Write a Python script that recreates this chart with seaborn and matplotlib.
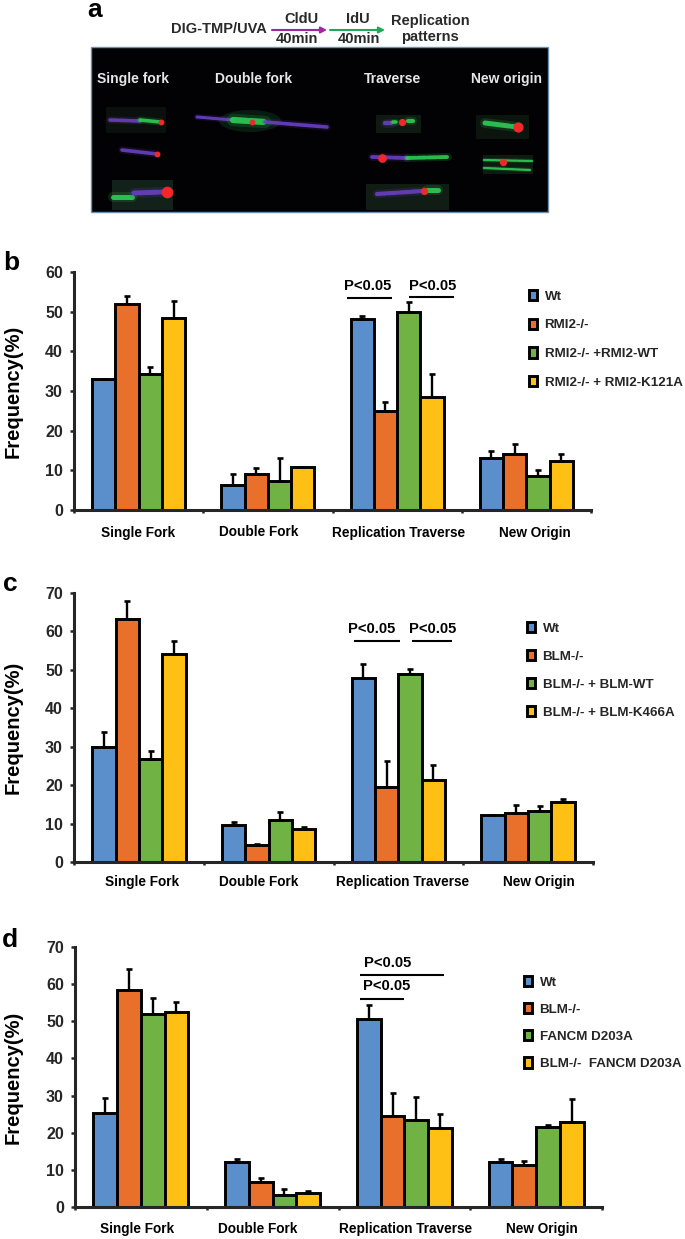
import numpy as np
import pandas as pd
import matplotlib
matplotlib.use('Agg')
import matplotlib.pyplot as plt
import seaborn as sns
from matplotlib.patches import Rectangle, Ellipse

W, H = 685, 1239

categories = ['Single Fork', 'Double Fork', 'Replication Traverse', 'New Origin']
colors = ['#5B8FCB', '#E8702A', '#70B244', '#FFC015']

b_groups = ['Wt', 'RMI2-/-', 'RMI2-/- +RMI2-WT', 'RMI2-/- + RMI2-K121A']
b_values = [[33, 6.4, 48.2, 13],
            [52, 9, 25, 14],
            [34.3, 7.2, 50, 8.6],
            [48.5, 10.9, 28.5, 12.3]]
b_errors = [[0, 2.6, 0.6, 2],
            [2, 1.5, 2.3, 2.6],
            [1.7, 5.8, 2.5, 1.6],
            [4.2, 0, 5.8, 1.7]]

c_groups = ['Wt', 'BLM-/-', 'BLM-/- + BLM-WT', 'BLM-/- + BLM-K466A']
c_values = [[30, 9.5, 47.9, 12.3],
            [63.2, 4.3, 19.4, 12.7],
            [26.8, 10.8, 48.8, 13.2],
            [54, 8.5, 21.4, 15.5]]
c_errors = [[3.8, 0.8, 3.7, 0],
            [4.7, 0.5, 7, 2.2],
            [2.2, 2.1, 1.4, 1.4],
            [3.6, 0.6, 3.8, 0.8]]

d_groups = ['Wt', 'BLM-/-', 'FANCM D203A', 'BLM-/-  FANCM D203A']
d_values = [[25.3, 12.1, 50.7, 12.1],
            [58.3, 6.6, 24.4, 11.2],
            [51.9, 3.3, 23.5, 21.6],
            [52.5, 3.7, 21.4, 23]]
d_errors = [[4, 0.9, 3.6, 0.9],
            [5.7, 1.3, 6.3, 1.2],
            [4.3, 1.6, 6.1, 0.4],
            [2.7, 0.7, 3.6, 6]]

sns.set_style('ticks')
plt.rcParams['font.family'] = ['Liberation Sans', 'DejaVu Sans']
plt.rcParams['font.weight'] = 'bold'

fig = plt.figure(figsize=(W / 100, H / 100), dpi=100)

# full figure layer in pixel coordinates for the annotations
top = fig.add_axes([0, 0, 1, 1], zorder=5)
top.set_xlim(0, W)
top.set_ylim(H, 0)
top.axis('off')
top.patch.set_alpha(0)


def bar_panel(groups, values, errors, ymax, left, right, y_top, y_zero, legend_xy, spacing):
    df = pd.DataFrame({
        'category': categories * 4,
        'group': np.repeat(groups, 4),
        'value': np.ravel(values),
    })
    ax = fig.add_axes([left / W, 1 - y_zero / H, (right - left) / W, (y_zero - y_top) / H])
    sns.barplot(data=df, x='category', y='value', hue='group', hue_order=groups,
                palette=colors, order=categories, width=0.72, gap=0, errorbar=None,
                edgecolor='black', linewidth=2.1, saturation=1, ax=ax)
    for bars, err in zip(ax.containers, errors):
        xs = [p.get_x() + p.get_width() / 2 for p in bars]
        tops = [p.get_height() for p in bars]
        up = np.array(err, dtype=float)
        up[up == 0] = np.nan
        ax.errorbar(xs, tops, yerr=[np.zeros(4), up], fmt='none', ecolor='black',
                    elinewidth=1.7, capsize=2.4, capthick=1.9, zorder=1)
    ax.set_xlim(-0.5, 3.5)
    ax.set_ylim(0, ymax)
    ax.set_yticks(np.arange(0, ymax + 1, 10))
    ax.set_xticks(np.arange(-0.5, 4, 1))
    ax.set_xticklabels([])
    ax.set_xlabel('')
    ax.set_ylabel('')
    ax.tick_params(axis='y', labelsize=11.5, width=1.8, length=3, pad=5)
    ax.tick_params(axis='x', width=1.8, length=2.5)
    for lab in ax.get_yticklabels():
        lab.set_fontweight('bold')
    sns.despine(ax=ax)
    ax.spines['left'].set_linewidth(2.2)
    ax.spines['bottom'].set_linewidth(2.2)
    sns.move_legend(ax, 'upper left', bbox_to_anchor=(legend_xy[0] / W, 1 - legend_xy[1] / H),
                    bbox_transform=fig.transFigure, frameon=False, title=None,
                    fontsize=9.6, handlelength=0.62, handleheight=0.8, handletextpad=0.55,
                    labelspacing=spacing, borderpad=0, borderaxespad=0)
    return ax


bar_panel(b_groups, b_values, b_errors, 60, 74, 591, 272, 510, (529, 290), 1.2)
bar_panel(c_groups, c_values, c_errors, 70, 74, 593, 593, 862, (527, 622), 1.15)
bar_panel(d_groups, d_values, d_errors, 70, 75, 602, 947, 1207, (524, 976), 1.08)


def say(x, y, s, size=10, color='black', **kw):
    top.text(x, y, s, fontsize=size, color=color, fontweight='bold',
             ha=kw.pop('ha', 'center'), va=kw.pop('va', 'center'), **kw)


# category labels sit a little off the group centres in the original
label_x = {532.5: [137.7, 259, 398.6, 535],
           882: [142, 259, 402.5, 539],
           1229: [137, 258, 405.6, 542]}
for y, xs in label_x.items():
    for x, name in zip(xs, categories):
        say(x, y, name, 9.8)

for y in [391, 727, 1077]:
    say(13, y, 'Frequency(%)', 14.5, rotation=90)

for x, y, s in [(95, 17, 'a'), (11, 270, 'b'), (10, 591, 'c'), (10, 947, 'd')]:
    say(x, y, s, 19, va='baseline')

# significance bars
p_lines = [(347, 392, 298), (409, 454, 297), (354, 400, 641), (412, 452, 641),
           (360, 444, 975), (360, 404, 999)]
p_text = [(368, 286), (433, 286), (372, 629), (433, 629), (388, 963), (387, 986)]
for x0, x1, y in p_lines:
    top.plot([x0, x1], [y, y], color='black', lw=1.5, solid_capstyle='butt')
for x, y in p_text:
    say(x, y, 'P<0.05', 10.6)

# panel a: protocol header
say(219, 29, 'DIG-TMP/UVA', 10.5, color='#2A2A2A')
say(301, 19, 'CldU', 10.5, color='#2A2A2A')
say(297, 39, '40min', 10.5, color='#2A2A2A')
say(358, 19, 'IdU', 10.5, color='#2A2A2A')
say(359, 39, '40min', 10.5, color='#2A2A2A')
say(430, 21, 'Replication', 10.5, color='#2A2A2A')
say(430, 37, 'patterns', 10.5, color='#2A2A2A')
for x0, x1, col in [(272, 327, '#A0289A'), (330, 385, '#1FA85A')]:
    top.annotate('', xy=(x1, 30), xytext=(x0, 30),
                 arrowprops=dict(arrowstyle='-|>,head_width=0.18,head_length=0.35', color=col, lw=1.5,
                                 shrinkA=0, shrinkB=0))

# panel a: micrograph stand-in
top.add_patch(Rectangle((91, 47), 457, 165, facecolor='#020204', edgecolor='#6F8FAF', lw=1))
for x, y, w, h, col in [(112, 180, 61, 30, '#12221A'), (366, 184, 83, 26, '#101C14'),
                        (376, 115, 45, 18, '#0E1A12'), (483, 155, 50, 19, '#0E1A12'),
                        (476, 115, 53, 24, '#0C140E'), (106, 107, 60, 26, '#0A100C')]:
    top.add_patch(Rectangle((x, y), w, h, facecolor=col, edgecolor='none'))
top.add_patch(Ellipse((250, 121), 62, 22, facecolor='#1FA85A', edgecolor='none', alpha=0.16))
for x, s in [(133, 'Single fork'), (254, 'Double fork'), (393, 'Traverse'), (507, 'New origin')]:
    say(x, 79, s, 10, color='#E6E6E6')

PURPLE, GREEN, RED = '#6A3FC0', '#2FCB55', '#F0282A'
fibres = [
    (110, 120, 140, 121, PURPLE, 2.6), (140, 120, 160, 122, GREEN, 2.6),
    (122, 150, 157, 154, PURPLE, 2.6),
    (113, 197, 132, 197, GREEN, 3.6), (134, 193, 163, 192, PURPLE, 3.6),
    (197, 117, 233, 120, PURPLE, 2.2), (233, 120, 265, 122, GREEN, 4.5), (265, 122, 327, 127, PURPLE, 2.6),
    (385, 123, 391, 123, PURPLE, 3.2), (393, 122, 396, 122, GREEN, 2.6), (408, 121, 413, 121, GREEN, 3),
    (372, 157, 407, 158, PURPLE, 2.8), (407, 158, 448, 157, GREEN, 2.8),
    (377, 194, 423, 191, PURPLE, 3), (427, 190, 438, 190, GREEN, 3.6),
    (485, 123, 517, 127, GREEN, 3.6),
    (484, 160, 532, 161, GREEN, 1.6), (484, 168, 530, 170, GREEN, 1.6),
]
for x0, y0, x1, y1, col, lw in fibres:
    top.plot([x0, x1], [y0, y1], color=col, lw=lw * 2, alpha=0.16, solid_capstyle='round')
    top.plot([x0, x1], [y0, y1], color=col, lw=lw, alpha=0.9, dash_capstyle='round',
             linestyle=(0, (2.2, 0.5)))
spots = [(161, 122, 4), (157, 154, 4), (167, 192, 8), (252, 122, 4), (402, 122, 5),
         (382, 158, 6), (424, 191, 5), (518, 127, 7), (503, 162, 5)]
for x, y, r in spots:
    top.scatter([x], [y], s=r * r * 1.1, color=RED, linewidths=0, zorder=6)

fig.savefig('out.png', dpi=100)
